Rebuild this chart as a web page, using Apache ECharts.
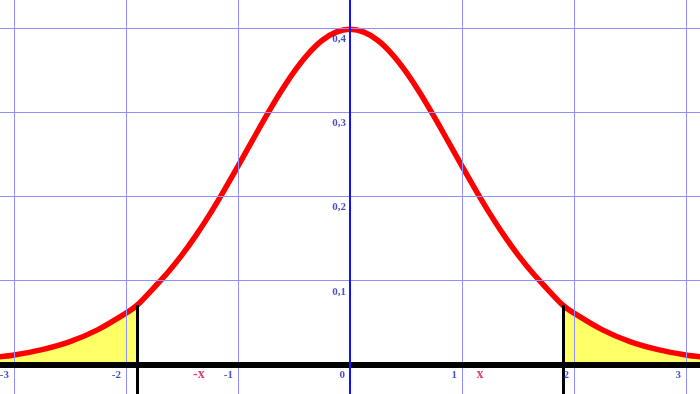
<!DOCTYPE html>
<html>
<head>
<meta charset="utf-8">
<script src="https://cdn.jsdelivr.net/npm/echarts@6/dist/echarts.min.js"></script>
<style>
html,body{margin:0;padding:0;background:#fff;}
#chart{width:700px;height:394px;}
</style>
</head>
<body>
<div id="chart"></div>
<script>
// Curve values
var curveX = [-3.25, -3, -2.75, -2.5, -2.25, -2, -1.9, -1.75, -1.625, -1.5, -1.375, -1.25, -1.125, -1, -0.875, -0.75, -0.625, -0.5, -0.375, -0.25, -0.125, 0,
              0.125, 0.25, 0.375, 0.5, 0.625, 0.75, 0.875, 1, 1.125, 1.25, 1.375, 1.5, 1.625, 1.75, 1.9, 2, 2.25, 2.5, 2.75, 3, 3.25];
var curveY = [0.0076, 0.0117, 0.0180, 0.0276, 0.0419, 0.0615, 0.0710, 0.0918, 0.1100, 0.1307, 0.1539, 0.1795, 0.2072, 0.2362, 0.2659, 0.2953, 0.3232, 0.3484, 0.3695, 0.3856, 0.3956, 0.3990,
              0.3956, 0.3856, 0.3695, 0.3484, 0.3232, 0.2953, 0.2659, 0.2362, 0.2072, 0.1795, 0.1539, 0.1307, 0.1100, 0.0918, 0.0710, 0.0615, 0.0419, 0.0276, 0.0180, 0.0117, 0.0076];
// critical value (shaded tails beyond ±xCrit)
var xCrit = 1.9;
// axis ticks
var xTicks = [-3, -2, -1, 0, 1, 2, 3];
var xTickLabels = ['-3', '-2', '-1', '0', '1', '2', '3'];
var yTicks = [0.1, 0.2, 0.3, 0.4];
var yTickLabels = ['0,1', '0,2', '0,3', '0,4'];
// "-x" / "x" annotations
var markX = [-1.35, 1.16];
var markLabels = ['-x', 'x'];
// axis range
var xMin = -3.125, xMax = 3.125, yMin = -0.0347, yMax = 0.4338;

var curve = curveX.map(function (x, i) { return [x, curveY[i]]; });
var leftTail = curve.filter(function (p) { return p[0] <= -xCrit + 1e-9; });
var rightTail = curve.filter(function (p) { return p[0] >= xCrit - 1e-9; });
var critY = curveY[curveX.indexOf(xCrit)];

var gridColor = '#8f8fff';
var vGrid = xTicks.filter(function (t) { return t !== 0; }).map(function (t) { return { xAxis: t }; });
var hGrid = yTicks.map(function (t) { return { yAxis: t }; });

var labelFont = { fontFamily: 'Liberation Serif', fontWeight: 'bold', fontSize: 11, color: '#1f1fb8' };

var chart = echarts.init(document.getElementById('chart'));
chart.setOption({
  animation: false,
  grid: { left: 0, right: 0, top: 0, bottom: 0 },
  xAxis: { type: 'value', min: xMin, max: xMax, show: false },
  yAxis: { type: 'value', min: yMin, max: yMax, show: false },
  series: [
    { // grid lines
      type: 'line', data: [], silent: true, z: 1,
      markLine: {
        silent: true, symbol: 'none', label: { show: false },
        lineStyle: { color: gridColor, width: 1, type: 'solid' },
        data: vGrid.concat(hGrid)
      }
    },
    { type: 'line', data: leftTail, smooth: 0.3, showSymbol: false, symbol: 'none', z: 2,
      lineStyle: { width: 0 }, areaStyle: { color: '#ffff66', opacity: 1 } },
    { type: 'line', data: rightTail, smooth: 0.3, showSymbol: false, symbol: 'none', z: 2,
      lineStyle: { width: 0 }, areaStyle: { color: '#ffff66', opacity: 1 } },
    { // x axis (black), y axis (blue), critical lines
      type: 'line', data: [], silent: true, z: 3,
      markLine: {
        silent: true, symbol: 'none', label: { show: false },
        data: [
          { yAxis: 0, lineStyle: { color: '#000000', width: 6, type: 'solid' } },
          { xAxis: 0, lineStyle: { color: '#1010ff', width: 2, type: 'solid' } },
          [{ coord: [-xCrit, critY] }, { coord: [-xCrit, yMin] }],
          [{ coord: [xCrit, critY] }, { coord: [xCrit, yMin] }]
        ],
        lineStyle: { color: '#000000', width: 3, type: 'solid' }
      }
    },
    { type: 'line', data: curve, smooth: 0.3, showSymbol: false, symbol: 'none', z: 4,
      lineStyle: { color: '#ff0000', width: 5.5 } },
    { // x tick labels
      type: 'scatter', z: 5, symbolSize: 1, itemStyle: { color: 'rgba(0,0,0,0)' }, silent: true,
      data: xTicks.map(function (t) { return [t, 0]; }),
      label: Object.assign({ show: true, position: 'inside', align: 'right', verticalAlign: 'middle', offset: [-5, 10],
        formatter: function (p) { return xTickLabels[p.dataIndex]; } }, labelFont)
    },
    { // y tick labels
      type: 'scatter', z: 5, symbolSize: 1, itemStyle: { color: 'rgba(0,0,0,0)' }, silent: true,
      data: yTicks.map(function (t) { return [0, t]; }),
      label: Object.assign({ show: true, position: 'inside', align: 'right', verticalAlign: 'middle', offset: [-4, 11],
        formatter: function (p) { return yTickLabels[p.dataIndex]; } }, labelFont)
    },
    { // -x / x annotations
      type: 'scatter', z: 5, symbolSize: 1, itemStyle: { color: 'rgba(0,0,0,0)' }, silent: true,
      data: markX.map(function (t) { return [t, 0]; }),
      label: { show: true, position: 'inside', align: 'center', verticalAlign: 'middle', offset: [0, 10],
        fontFamily: 'Liberation Serif', fontWeight: 'bold', fontSize: 14, color: '#dd1144',
        formatter: function (p) { return markLabels[p.dataIndex]; } }
    }
  ]
});
</script>
</body>
</html>
